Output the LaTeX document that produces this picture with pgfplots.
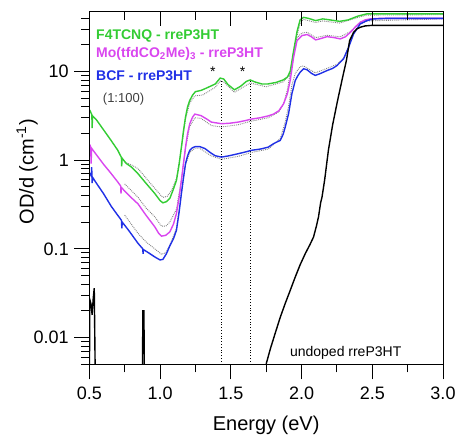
\documentclass[border=0pt]{standalone}
\usepackage{fontspec}
\setmainfont{Liberation Sans}
\usepackage{pgfplots}
\pgfplotsset{compat=1.18}
\definecolor{cgreen}{RGB}{51,204,51}
\definecolor{cmag}{RGB}{217,70,239}
\definecolor{cblue}{RGB}{32,48,230}
\definecolor{cgrey}{RGB}{130,130,130}
\begin{document}
\begin{tikzpicture}
\begin{axis}[
  name=main,
  scale only axis, width=353.7pt, height=352.6pt,
  ymode=log, xmin=0.5, xmax=3.0, ymin=0.005, ymax=47,
  xtick={0.5,1.0,1.5,2.0,2.5,3.0},
  xticklabels={0.5,1.0,1.5,2.0,2.5,3.0},
  minor xtick={0.75,1.25,1.75,2.25,2.75},
  ytick={0.01,0.1,1,10},
  yticklabels={0.01,0.1,1,10},
  minor ytick={0.005,0.006,0.007,0.008,0.009,0.02,0.03,0.04,0.05,0.06,0.07,0.08,0.09,0.2,0.3,0.4,0.5,0.6,0.7,0.8,0.9,2,3,4,5,6,7,8,9,20,30,40},
  xtick pos=left, ytick pos=left,
  tick align=outside,
  major tick length=15pt, minor tick length=8pt,
  every tick/.style={black, line width=0.8pt},
  axis line style={line width=0.8pt},
  /pgf/number format/assume math mode=true,
  xticklabel style={font=\fontsize{18}{20}\selectfont, yshift=-4pt},
  yticklabel style={font=\fontsize{18}{20}\selectfont, xshift=-2pt},
  xlabel={Energy (eV)}, ylabel={OD/d (cm\textsuperscript{-1})},
  xlabel style={font=\fontsize{20}{22}\selectfont, at={(axis description cs:0.5,-0.172)}, anchor=center},
  ylabel style={font=\fontsize{20}{22}\selectfont, at={(axis description cs:-0.176,0.546)}, anchor=center, rotate=0},
  clip=true,
]
% grey dotted comparison curves
\addplot[cgrey, densely dotted, line width=0.9pt] coordinates {(0.75,0.95)(0.8,0.88)(0.845,0.80)(0.9,0.63)(0.963,0.48)(1.0,0.41)(1.02,0.38)(1.05,0.39)(1.08,0.45)(1.116,0.62)(1.151,1.35)(1.18,2.9)(1.21,4.4)(1.246,5.3)(1.3,5.4)(1.39,6.6)(1.425,7.8)(1.45,7.6)(1.526,5.8)(1.637,7.4)(1.75,6.7)(1.87,7.6)(1.92,9.3)(1.944,15)(1.968,25)(1.99,35)(2.015,38.5)(2.1,35.5)(2.15,37)(2.27,35)(2.4,40.5)(2.46,43)(3.0,43.5)};
\addplot[cgrey, densely dotted, line width=0.9pt] coordinates {(0.75,0.54)(0.845,0.38)(0.9,0.29)(0.963,0.23)(1.01,0.18)(1.04,0.18)(1.069,0.20)(1.116,0.28)(1.151,0.6)(1.18,1.35)(1.21,2.4)(1.246,3.0)(1.29,2.95)(1.363,2.45)(1.434,2.36)(1.552,2.5)(1.647,2.75)(1.765,3.0)(1.84,3.5)(1.873,4.3)(1.9,6.2)(1.92,9.5)(1.944,16)(1.968,24)(2.003,27)(2.04,27.5)(2.10,24)(2.18,25.5)(2.274,24.5)(2.345,28)(2.415,36)(2.487,39)(3.0,39.3)};
\addplot[cgrey, densely dotted, line width=0.9pt] coordinates {(0.75,0.24)(0.845,0.149)(0.9,0.12)(0.963,0.10)(1.01,0.087)(1.04,0.09)(1.069,0.11)(1.116,0.17)(1.151,0.42)(1.18,0.88)(1.21,1.22)(1.246,1.36)(1.28,1.36)(1.36,1.12)(1.434,1.02)(1.552,1.1)(1.647,1.22)(1.765,1.33)(1.85,1.75)(1.885,2.7)(1.908,4.0)(1.932,7.0)(1.956,9.5)(1.991,11.3)(2.015,11.5)(2.097,9.6)(2.18,10.8)(2.25,12)(2.297,14)(2.333,19)(2.368,26.5)(2.415,34)(2.463,37)(3.0,39)};
% vertical dotted markers
\addplot[black, dotted, line width=0.8pt] coordinates {(1.435,0.003)(1.435,8.4)};
\addplot[black, dotted, line width=0.8pt] coordinates {(1.64,0.003)(1.64,8.0)};
% F4TCNQ
\addplot[cgreen, line width=1.4pt] coordinates {(0.500,3.7)(0.505,3.6)(0.518,3.25)(0.520,2.3)(0.523,3.15)(0.55,2.85)(0.6,2.2)(0.65,1.7)(0.7,1.3)(0.727,1.07)(0.729,0.85)(0.732,1.05)(0.76,0.92)(0.8,0.83)(0.845,0.70)(0.9,0.55)(0.963,0.42)(1.0,0.35)(1.02,0.33)(1.045,0.34)(1.069,0.37)(1.09,0.45)(1.116,0.59)(1.135,0.9)(1.151,1.40)(1.165,2.1)(1.18,3.05)(1.195,4.0)(1.21,4.7)(1.23,5.4)(1.25,5.9)(1.29,6.1)(1.33,6.5)(1.39,7.2)(1.425,8.4)(1.45,8.2)(1.48,7.1)(1.526,6.2)(1.57,6.8)(1.61,7.7)(1.637,8.0)(1.67,7.6)(1.72,7.2)(1.76,7.2)(1.82,7.5)(1.87,8.0)(1.9,8.6)(1.92,10)(1.944,17)(1.968,28)(1.99,38)(2.015,40.6)(2.05,39.5)(2.1,37.3)(2.15,39)(2.2,38)(2.27,36.6)(2.33,38)(2.4,42)(2.46,44.4)(3.0,44.4)};
% Mo(tfd)
\addplot[cmag, line width=1.4pt] coordinates {(0.5,1.5)(0.505,1.47)(0.51,1.40)(0.513,0.91)(0.516,1.36)(0.55,1.15)(0.6,0.90)(0.65,0.72)(0.7,0.57)(0.722,0.51)(0.724,0.42)(0.727,0.49)(0.78,0.40)(0.845,0.32)(0.9,0.24)(0.963,0.177)(0.99,0.150)(1.01,0.139)(1.04,0.142)(1.069,0.155)(1.095,0.19)(1.116,0.25)(1.135,0.38)(1.151,0.59)(1.165,0.9)(1.18,1.40)(1.195,2.0)(1.21,2.57)(1.23,3.05)(1.246,3.3)(1.29,3.17)(1.33,2.9)(1.363,2.68)(1.434,2.57)(1.49,2.6)(1.552,2.68)(1.6,2.78)(1.647,2.9)(1.708,3.0)(1.765,3.15)(1.802,3.3)(1.84,3.6)(1.873,4.3)(1.9,5.6)(1.92,7.9)(1.944,14.4)(1.968,22.2)(2.003,25.3)(2.04,26)(2.07,24.5)(2.10,22.6)(2.14,23.5)(2.18,24.6)(2.23,24)(2.274,23.2)(2.31,24.5)(2.345,27.5)(2.38,31.5)(2.415,35.7)(2.45,38)(2.487,39)(2.55,39.5)(3.0,39.5)};
% BCF
\addplot[cblue, line width=1.4pt] coordinates {(0.5,0.72)(0.505,0.70)(0.514,0.66)(0.517,0.83)(0.52,0.55)(0.523,0.64)(0.55,0.55)(0.6,0.42)(0.656,0.30)(0.7,0.24)(0.727,0.21)(0.73,0.17)(0.733,0.20)(0.78,0.16)(0.845,0.115)(0.878,0.100)(0.88,0.088)(0.883,0.098)(0.92,0.09)(0.963,0.081)(1.0,0.075)(1.02,0.076)(1.045,0.088)(1.069,0.108)(1.095,0.13)(1.116,0.162)(1.135,0.26)(1.151,0.42)(1.165,0.62)(1.18,0.91)(1.195,1.12)(1.21,1.29)(1.23,1.38)(1.25,1.42)(1.28,1.42)(1.317,1.35)(1.36,1.2)(1.39,1.12)(1.434,1.08)(1.49,1.12)(1.552,1.18)(1.6,1.23)(1.647,1.29)(1.708,1.33)(1.765,1.40)(1.802,1.53)(1.85,1.67)(1.87,1.95)(1.885,2.36)(1.908,3.3)(1.932,5.6)(1.956,7.9)(1.975,9.0)(1.991,9.8)(2.015,10.7)(2.04,10.4)(2.07,9.5)(2.097,9.0)(2.13,9.4)(2.18,10.2)(2.22,10.8)(2.25,11.6)(2.297,13.8)(2.333,18.7)(2.368,26.4)(2.415,34.3)(2.463,37.3)(2.51,39)(2.6,39.5)(3.0,39.5)};
% undoped
\addplot[black, line width=1.4pt] coordinates {(0.500,0.001)(0.503,0.027)(0.512,0.024)(0.520,0.018)(0.528,0.028)(0.535,0.036)(0.546,0.001)(0.872,0.001)(0.879,0.020)(0.886,0.020)(0.892,0.001)(1.74,0.001)(1.751,0.0051)(1.78,0.0075)(1.814,0.0112)(1.85,0.017)(1.885,0.0243)(1.92,0.034)(1.956,0.0483)(1.99,0.066)(2.027,0.0887)(2.06,0.112)(2.085,0.136)(2.105,0.18)(2.12,0.229)(2.135,0.33)(2.145,0.384)(2.163,0.59)(2.19,1.29)(2.22,2.5)(2.255,4.7)(2.29,8.5)(2.317,13.2)(2.34,22.2)(2.368,27.5)(2.39,30)(2.415,31.4)(2.45,32.5)(2.5,33)(3.0,33)};
% texts
\node[anchor=west, inner sep=0pt, text=cgreen, font=\fontsize{14}{16}\selectfont\bfseries] at (rel axis cs:0.019,0.932) {F4TCNQ - rreP3HT};
\node[anchor=west, inner sep=0pt, text=cmag, font=\fontsize{14}{16}\selectfont\bfseries] at (rel axis cs:0.019,0.880) {Mo(tfdCO\textsubscript{2}Me)\textsubscript{3} - rreP3HT};
\node[anchor=west, inner sep=0pt, text=cblue, font=\fontsize{14}{16}\selectfont\bfseries] at (rel axis cs:0.019,0.818) {BCF - rreP3HT};
\node[anchor=west, inner sep=0pt, text=black!75, font=\fontsize{13}{15}\selectfont] at (rel axis cs:0.038,0.752) {(1:100)};
\node[anchor=west, inner sep=0pt, text=black, font=\fontsize{14}{16}\selectfont] at (rel axis cs:0.567,0.033) {undoped rreP3HT};
\node[inner sep=0pt, font=\fontsize{14}{16}\selectfont] at (axis cs:1.373,10.0) {*};
\node[inner sep=0pt, font=\fontsize{14}{16}\selectfont] at (axis cs:1.583,10.0) {*};
\end{axis}
\begin{axis}[
  scale only axis, width=353.7pt, height=352.6pt,
  xmin=0.5, xmax=3.0, ymin=0, ymax=1,
  xtick={0.5,1.0,1.5,2.0,2.5,3.0},
  minor xtick={0.75,1.25,1.75,2.25,2.75},
  xticklabels={}, ytick=\empty,
  xtick pos=right, tick align=inside,
  major tick length=14pt, minor tick length=8pt,
  every tick/.style={black, line width=0.8pt},
  axis line style={line width=0.8pt},
]
\end{axis}
\path ([xshift=-89.3pt,yshift=-73.7pt]main.south west) rectangle ([xshift=17pt,yshift=11.7pt]main.north east);
\end{tikzpicture}
\end{document}
